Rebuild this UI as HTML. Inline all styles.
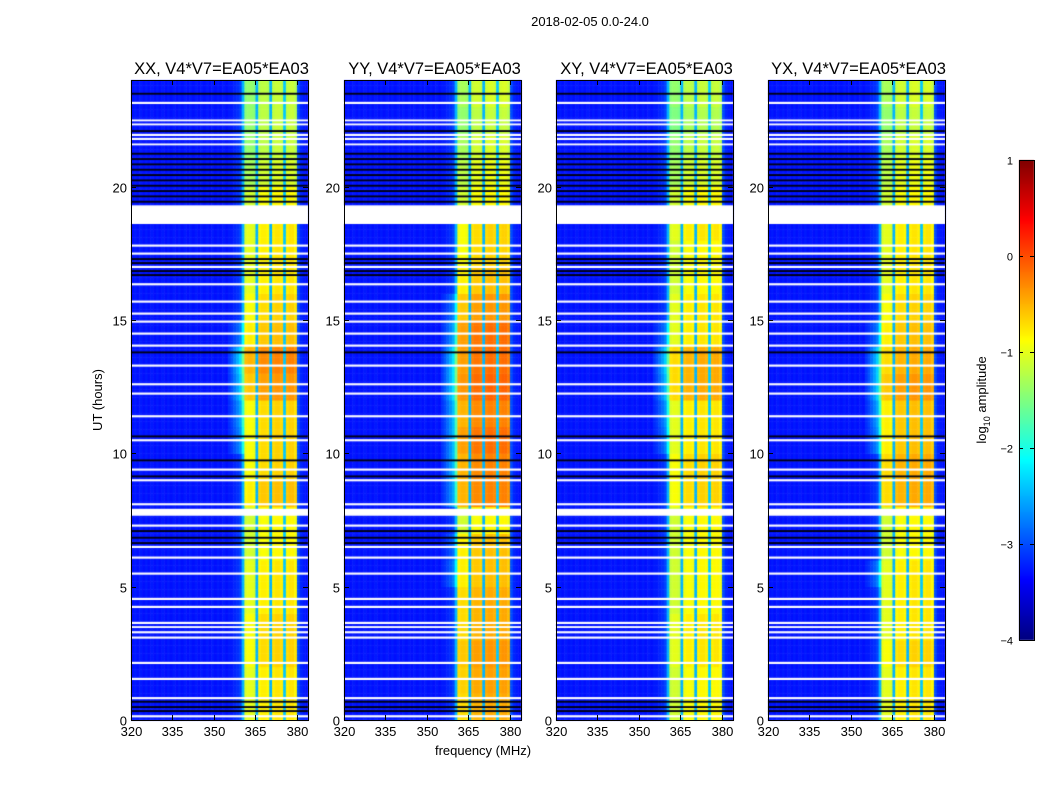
<!DOCTYPE html>
<html><head><meta charset="utf-8">
<style>
body{margin:0;background:#fff;width:1050px;height:800px;overflow:hidden;position:relative;font-family:"Liberation Sans",sans-serif}
canvas,svg{position:absolute;left:0;top:0}
</style></head>
<body>
<canvas id="cv" width="1050" height="800"></canvas>
<svg id="sv" width="1050" height="800"></svg>
<script>
// ---- data ----
const panelTitles = ["XX, V4*V7=EA05*EA03","YY, V4*V7=EA05*EA03","XY, V4*V7=EA05*EA03","YX, V4*V7=EA05*EA03"];
const freqTicks = [320,335,350,365,380];
const timeTicks = [0,5,10,15,20];
const cbTicks = [1,0,-1,-2,-3,-4];
// log10 amplitude per 1 MHz channel, 320..383 MHz
const colProfile = [
-3.3,-3.25,-3.3,-3.25,-3.3,-3.25,-3.3,-3.25,-3.3,-3.25,
-3.3,-3.25,-3.3,-3.25,-3.3,-3.25,-3.3,-3.25,-3.3,-3.25,
-3.3,-3.25,-3.3,-3.25,-3.3,-3.25,-3.3,-3.25,-3.3,-3.25,
-3.3,-3.25,-3.3,-3.25,-3.3,-3.25,-3.25,-3.2,-3.15,-3.05,
-2.5,-1.15,-1.1,-1.1,-1.15,-2.5,-0.95,-0.9,-0.9,-0.95,
-2.5,-0.9,-0.85,-0.85,-0.9,-2.4,-0.9,-0.85,-0.85,-0.95,
-3.0,-3.2,-3.25,-3.3];
// channel indices of narrow divider stripes (not boosted)
const dividerCols = [45,50,55];
// per-hour band boost per panel (hours 0..23)
const boostXX = [0.1,0.1,0.2,0.2,0.1,0.1,0.0,0.0,0.3,0.2,0.2,0.2,0.5,0.6,0.3,0.2,0.1,0.1,0.1,0,-0.2,-0.3,-0.3,-0.3];
const boostYY = [0.4,0.45,0.5,0.4,0.4,0.3,0.3,0.0,0.6,0.6,0.7,0.6,0.75,0.7,0.7,0.5,0.3,0.2,0.2,0,-0.1,-0.2,-0.3,-0.2];
const boostXY = [0.0,0.0,0.1,0.1,0.0,0.0,0.0,0.0,0.2,0.2,0.1,0.1,0.4,0.4,0.1,0.1,0.0,0.0,0.1,0,-0.2,-0.3,-0.4,-0.3];
const boostYX = [0.1,0.1,0.2,0.1,0.1,0.1,0.0,0.0,0.4,0.4,0.3,0.3,0.5,0.4,0.3,0.2,0.1,0.1,0.1,0,-0.1,-0.2,-0.3,-0.2];
const glowXX = [0,0,0,0,0,0,0,0,0,0,0.4,0.5,0.7,0.8,0.3,0,0,0,0,0,0,0,0,0];
const glowYY = [0,0,0,0,0,0.3,0.2,0,0.5,0.6,0.6,0.6,0.8,0.8,0.5,0.3,0,0,0,0,0,0,0,0];
const glowXY = [0,0,0,0,0,0,0,0,0,0,0.3,0.4,0.6,0.7,0.3,0,0,0,0,0,0,0,0,0];
const glowYX = [0,0,0,0,0,0.3,0,0,0,0,0.4,0.5,0.7,0.7,0.3,0,0,0,0,0,0,0,0,0];
// flagged (white) intervals, hours
const whiteStart = [18.6,7.66,23.1,22.45,22.3,21.9,21.75,21.55,17.75,17.45,16.95,16.3,15.65,15.2,14.9,14.45,14.0,13.25,12.55,12.2,11.35,10.45,9.35,8.95,8.05,7.25,6.45,6.05,5.45,4.5,4.2,3.6,3.45,3.25,3.05,2.1,1.5,0.78,0.1];
const whiteEnd   = [19.3,7.92,23.18,22.52,22.37,21.98,21.83,21.62,17.83,17.53,17.03,16.38,15.73,15.28,14.98,14.53,14.08,13.33,12.63,12.28,11.43,10.53,9.43,9.03,8.13,7.33,6.53,6.13,5.53,4.58,4.28,3.68,3.52,3.33,3.13,2.18,1.58,0.86,0.18];
// dark (black) flagged intervals
const blackStart = [23.45,21.2,21.0,20.8,20.6,20.4,20.2,20.0,19.8,19.6,19.4,22.05,17.25,17.1,16.8,16.65,13.75,10.6,9.7,9.1,7.05,6.8,6.6,0.65,0.45,0.3];
const blackEnd   = [23.52,21.27,21.07,20.87,20.67,20.47,20.27,20.07,19.87,19.67,19.47,22.12,17.32,17.17,16.87,16.72,13.82,10.67,9.77,9.17,7.12,6.87,6.67,0.72,0.52,0.37];
const boosts=[boostXX,boostYY,boostXY,boostYX];
const glows=[glowXX,glowYY,glowXY,glowYX];

// ---- layout/axes ----
const panelLeft=[131,344,556,768], pw=177, pTop=80, pBottom=720;
const fx=(f,p)=>panelLeft[p]+(f-320)/64*pw;
const ty=t=>pBottom-t/24*(pBottom-pTop);
const cbX=1019,cbW=15,cbTop=160,cbBot=640;
const cy=v=>cbBot-(v+4)/5*(cbBot-cbTop);

function jet(t){t=Math.max(0,Math.min(1,t));
 const c=x=>Math.max(0,Math.min(1,x));
 const r=c(Math.min(4*t-1.5,-4*t+4.5)),g=c(Math.min(4*t-0.5,-4*t+3.5)),b=c(Math.min(4*t+0.5,-4*t+2.5));
 return `rgb(${Math.round(r*255)},${Math.round(g*255)},${Math.round(b*255)})`;}
const vcol=v=>jet((v+4)/5);

const ctx=document.getElementById('cv').getContext('2d');
const nRows=240;
for(let p=0;p<4;p++){
 for(let r=0;r<nRows;r++){
  const t0=r*0.1,t=t0+0.05,h=Math.floor(t);
  for(let c=0;c<64;c++){
   let v=colProfile[c];
   if(c>=41&&c<=59&&dividerCols.indexOf(c)<0) v+=boosts[p][h];
   if(c>=35&&c<=40) v+=glows[p][h]*(c-34)/6*1.2;
   ctx.fillStyle=vcol(v);
   const x0=fx(320+c,p),x1=fx(321+c,p);
   ctx.fillRect(x0,ty(t0+0.1),x1-x0+0.5,ty(t0)-ty(t0+0.1)+0.5);
  }
 }
 for(let i=0;i<blackStart.length;i++){ctx.fillStyle='#000010';ctx.fillRect(panelLeft[p],ty(blackEnd[i]),pw,ty(blackStart[i])-ty(blackEnd[i]));}
 for(let i=0;i<whiteStart.length;i++){ctx.fillStyle='#fff';ctx.fillRect(panelLeft[p],ty(whiteEnd[i]),pw,ty(whiteStart[i])-ty(whiteEnd[i]));}
}
// colorbar
for(let y=cbTop;y<cbBot;y++){const v=1-(y-cbTop+0.5)/(cbBot-cbTop)*5;ctx.fillStyle=vcol(v);ctx.fillRect(cbX,y,cbW,1);}

const NS='http://www.w3.org/2000/svg',sv=document.getElementById('sv');
function mk(tag,attrs,txt){const e=document.createElementNS(NS,tag);for(const k in attrs)e.setAttribute(k,attrs[k]);if(txt!==undefined)e.textContent=txt;sv.appendChild(e);return e;}
for(let p=0;p<4;p++){
 const fr=mk('rect',{x:panelLeft[p]+0.5,y:pTop+0.5,width:pw,height:pBottom-pTop,fill:'none',stroke:'#000'});
 
 
 const ti=mk('text',{x:panelLeft[p]+pw/2+2,y:74,'text-anchor':'middle','font-size':16.5},panelTitles[p]);
 
 
 freqTicks.forEach(f=>{const x=Math.round(fx(f,p))+0.5;
  mk('line',{x1:x,x2:x,y1:pBottom,y2:pBottom-5,stroke:'#000'});
  mk('line',{x1:x,x2:x,y1:pTop,y2:pTop+5,stroke:'#000'});
  const l=mk('text',{x:x,y:pBottom+16,'text-anchor':'middle','font-size':13},String(f));
  
  });
 timeTicks.forEach(t=>{const y=Math.round(ty(t))+0.5;
  mk('line',{x1:panelLeft[p],x2:panelLeft[p]+5,y1:y,y2:y,stroke:'#000'});
  mk('line',{x1:panelLeft[p]+pw,x2:panelLeft[p]+pw-5,y1:y,y2:y,stroke:'#000'});
  const l=mk('text',{x:panelLeft[p]-4,y:y+5,'text-anchor':'end','font-size':13},String(t));
  
  });
}
const st=mk('text',{x:590,y:26,'text-anchor':'middle','font-size':13},'2018-02-05 0.0-24.0');


const yl=mk('text',{x:0,y:0,'text-anchor':'middle','font-size':13,transform:'translate(102,400) rotate(-90)'},'UT (hours)');


const xl=mk('text',{x:483,y:755,'text-anchor':'middle','font-size':13},'frequency (MHz)');


const cbf=mk('rect',{x:cbX+0.5,y:cbTop+0.5,width:cbW,height:cbBot-cbTop,fill:'none',stroke:'#000'});


cbTicks.forEach(v=>{const y=Math.round(cy(v))+0.5;
 mk('line',{x1:cbX,x2:cbX+4,y1:y,y2:y,stroke:'#000'});
 mk('line',{x1:cbX+cbW,x2:cbX+cbW-4,y1:y,y2:y,stroke:'#000'});
 const l=mk('text',{x:1013,y:y+4,'text-anchor':'end','font-size':11},String(v).replace('-','\u2212'));
 
 });
const cl=mk('text',{x:0,y:0,'text-anchor':'middle','font-size':13,transform:'translate(986,400) rotate(-90)'});


cl.innerHTML='log<tspan font-size="9" dy="4">10</tspan><tspan dy="-4"> amplitude</tspan>';
</script>
</body></html>
